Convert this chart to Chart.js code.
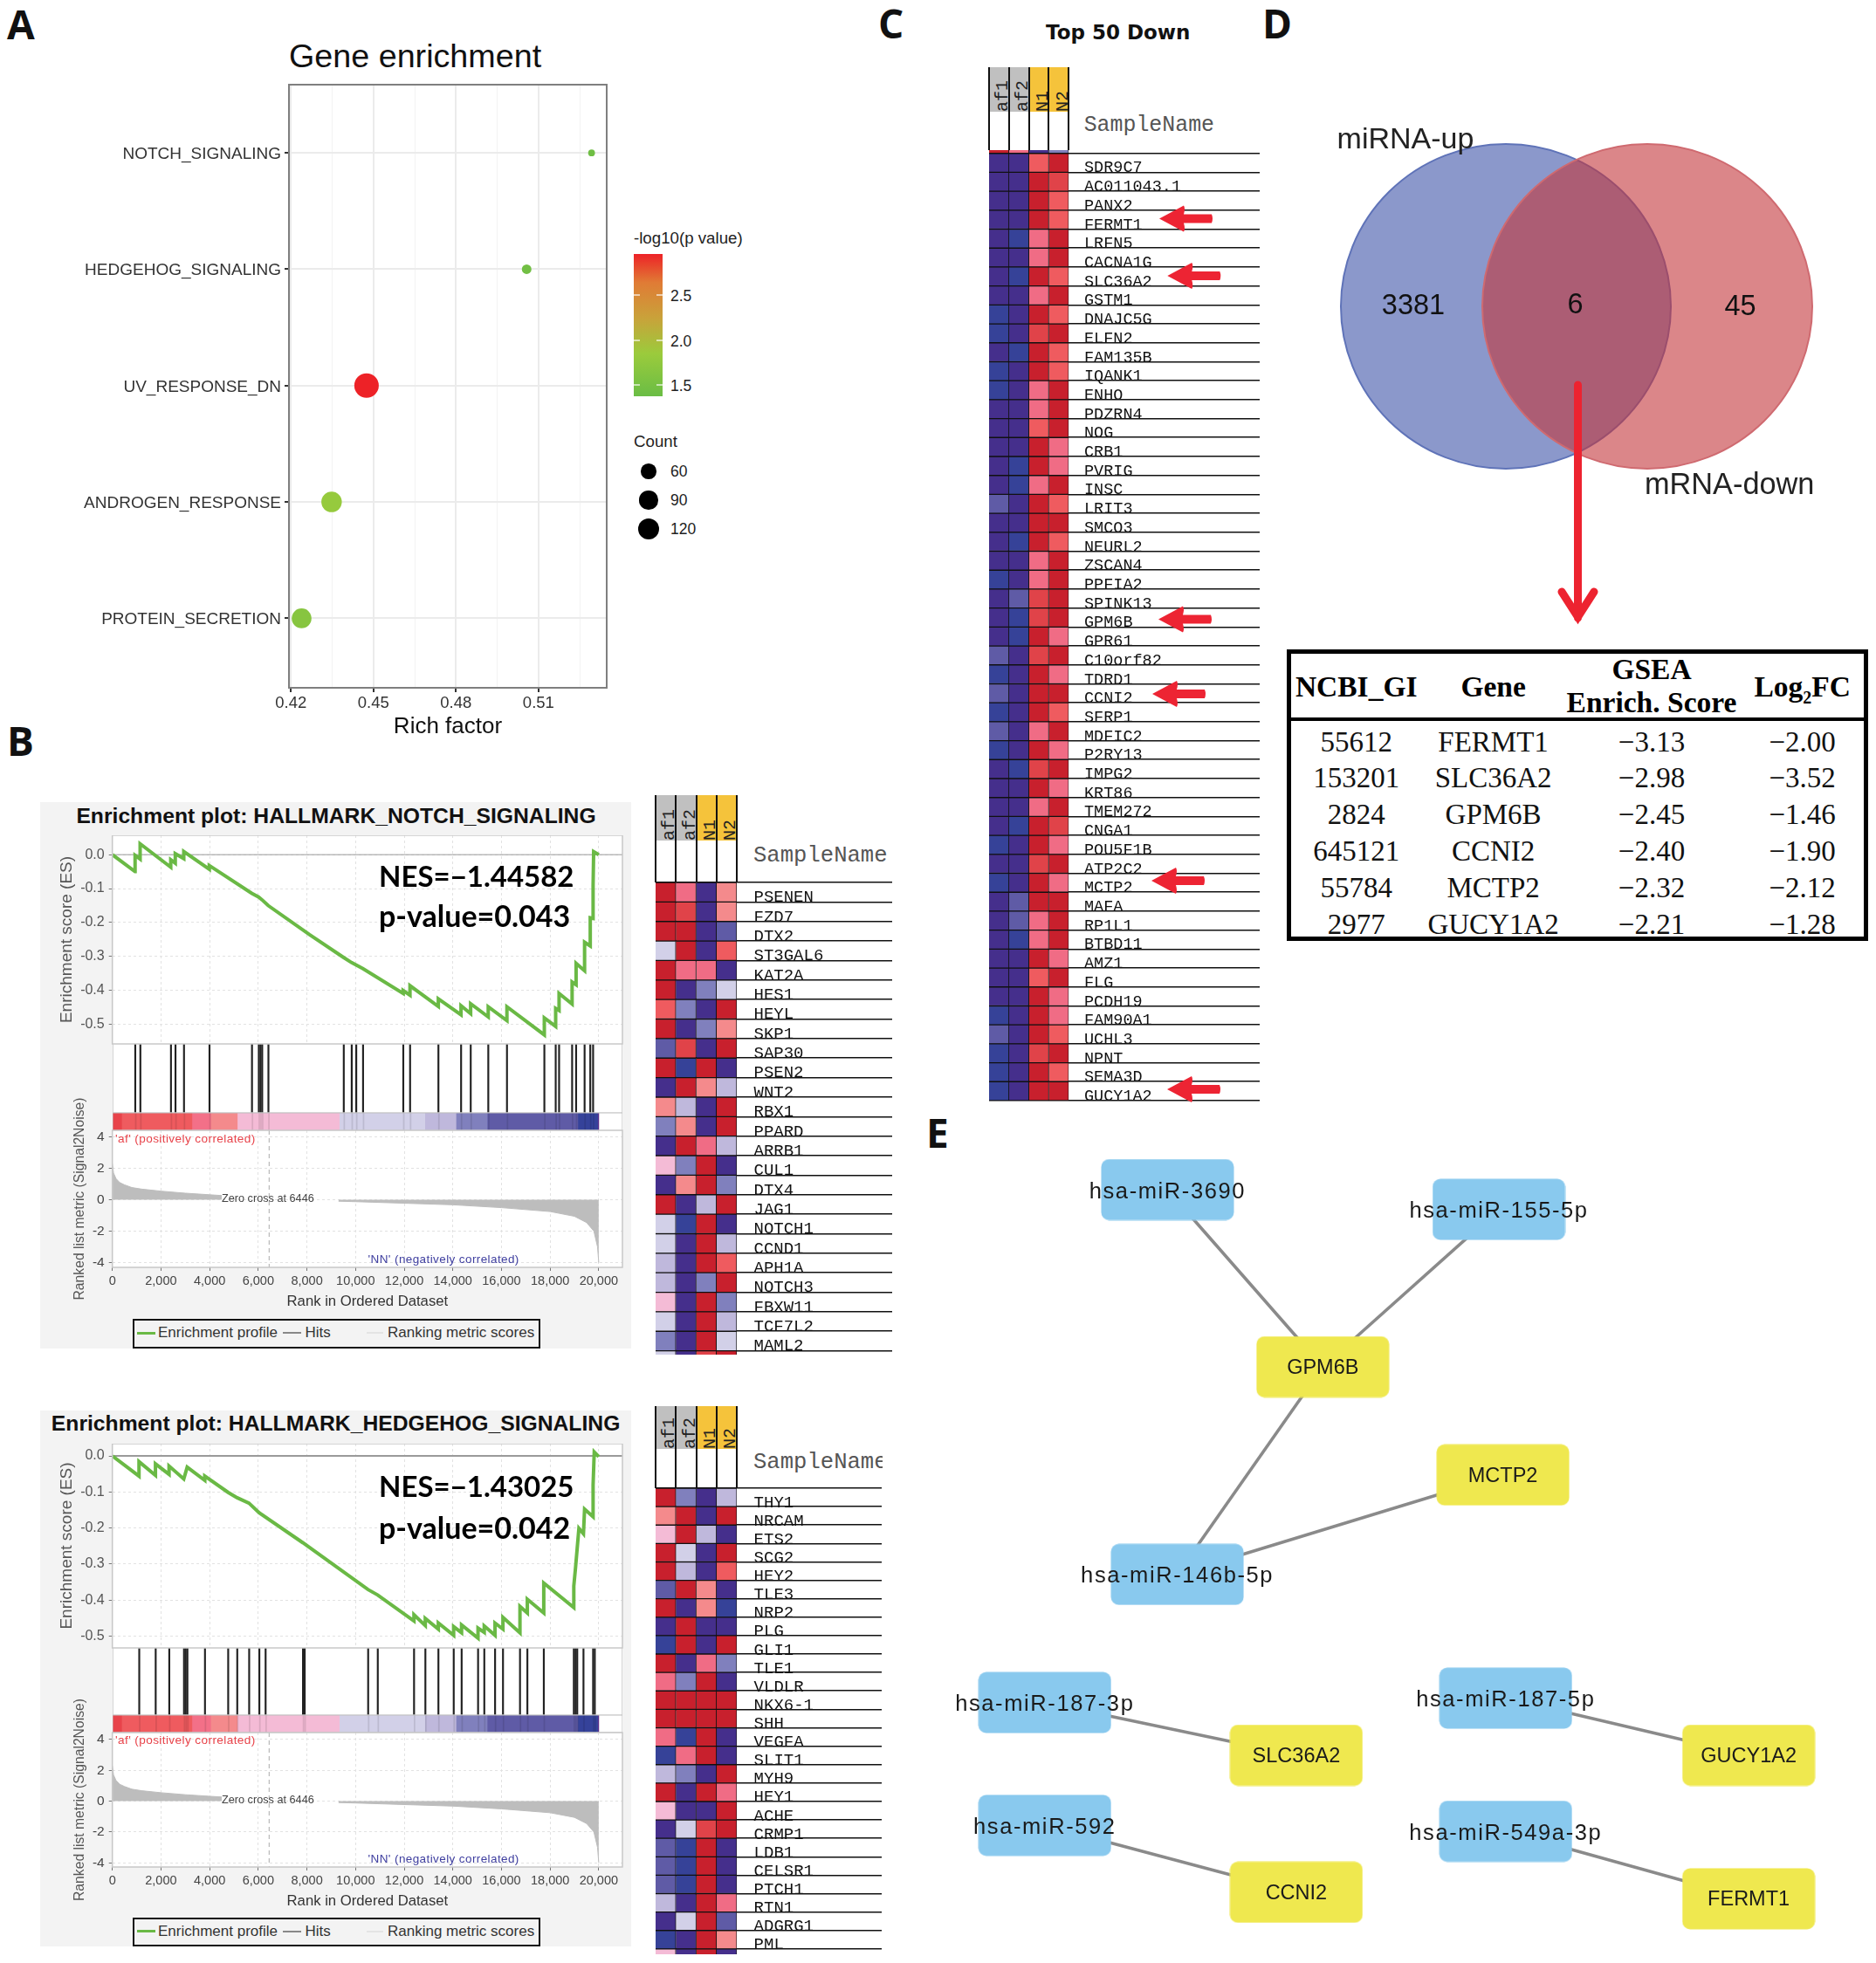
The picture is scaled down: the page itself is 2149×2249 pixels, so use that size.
<!DOCTYPE html>
<html><head><meta charset="utf-8">
<style>
html,body{margin:0;padding:0;background:#fff}
#stage{position:relative;width:2149px;height:2249px;overflow:hidden;background:#fff;font-family:"Liberation Sans",sans-serif}
.t{position:absolute;white-space:nowrap;line-height:1;color:#222}
</style>
<script src="https://cdn.jsdelivr.net/npm/chart.js@4"></script>
</head><body><div id="stage"></div>
<script>
// ---------- Panel A data
const pathways=["PROTEIN_SECRETION","ANDROGEN_RESPONSE","UV_RESPONSE_DN","HEDGEHOG_SIGNALING","NOTCH_SIGNALING"];
const richFactor=[0.4239,0.4348,0.4475,0.5057,0.5293];
const geneCount=[102,110,157,24,12];
const logP=[1.6,1.75,2.95,1.38,1.35];
const richTicks=[0.42,0.435,0.45,0.465,0.48,0.495,0.51,0.525];
const countLegend=[60,90,120];
const pLegend=[2.5,2.0,1.5];
// ---------- Panel B data
const rankAxis=[0,2000,4000,6000,8000,10000,12000,14000,16000,18000,20000];
const esAxis=[0,-0.1,-0.2,-0.3,-0.4,-0.5];
const metricAxis=[4,2,0,-2,-4];
const notchRank=[0,932,935,1142,1142,2401,2401,2587,2587,2937,2937,3986,3986,5734,6014,6154,6410,8112,9510,9837,10303,11958,11958,12238,12238,13403,13403,14336,14336,14732,14732,15455,15455,16224,16224,17762,17762,18228,18228,18368,18368,18904,18904,19068,19068,19417,19417,19650,19650,19767,19767,19790,20000];
const notchES=[0,-0.05,-0.002,-0.013,0.032,-0.037,-0.015,-0.025,0.003,-0.012,0.009,-0.043,-0.032,-0.114,-0.125,-0.133,-0.15,-0.236,-0.303,-0.318,-0.336,-0.409,-0.4,-0.414,-0.386,-0.447,-0.425,-0.472,-0.445,-0.468,-0.439,-0.478,-0.448,-0.489,-0.448,-0.531,-0.481,-0.506,-0.453,-0.459,-0.409,-0.44,-0.375,-0.383,-0.32,-0.342,-0.258,-0.269,-0.186,-0.188,-0.091,0.009,0];
const notchHits=[932,1142,2401,2587,2937,3986,5734,6014,6084,6154,6410,9510,9837,10023,10303,11958,12238,13403,14336,14732,15455,16224,17762,18228,18368,18904,19068,19417,19650,19767];
const hedgeRank=[0,1096,1096,1772,1772,2331,2331,2937,3077,3800,3800,4755,5128,5618,6037,7832,10513,10909,12401,12401,12867,12867,13403,13403,14033,14033,14359,14359,15035,15035,15291,15291,15734,15734,16060,16060,16760,16760,17063,17063,17739,17739,18974,18974,19044,19114,19184,19371,19417,19767,19767,19814,20000];
const hedgeES=[0,-0.056,-0.016,-0.054,-0.022,-0.051,-0.028,-0.064,-0.031,-0.068,-0.056,-0.101,-0.116,-0.131,-0.158,-0.241,-0.371,-0.386,-0.458,-0.441,-0.471,-0.451,-0.481,-0.464,-0.498,-0.474,-0.491,-0.469,-0.506,-0.478,-0.49,-0.472,-0.498,-0.464,-0.481,-0.448,-0.491,-0.418,-0.436,-0.398,-0.436,-0.353,-0.421,-0.361,-0.311,-0.256,-0.201,-0.216,-0.148,-0.169,-0.081,0.011,-0.002];
const hedgeHits=[1096,1772,2331,2937,3007,3077,3800,4755,5128,5618,6037,6294,7832,7902,10513,10909,12401,12867,13403,14033,14359,15035,15291,15734,16060,16760,17063,17739,18974,19044,19114,19371,19767,19837];
const metricPosRank=[0,50,150,300,500,800,1200,2000,3000,4000,4500];
const metricPosVal=[2.3,1.7,1.35,1.1,0.95,0.78,0.68,0.55,0.42,0.32,0.27];
const metricNegRank=[9300,10000,12000,14000,16000,18000,19000,19500,19800,19950,20000];
const metricNegVal=[-0.09,-0.12,-0.22,-0.32,-0.5,-0.75,-1.05,-1.45,-2,-3,-4];
const stripEdges=[0,373,3263,4033,5128,9324,12844,14126,15408,19138,19954,20000];
const stripColors=["#e8434a","#ef5b5f","#f37088","#f48a8c","#f4bbd6","#d2d0e8","#bfb8dc","#8080bd","#5f5ba6","#35429a","#5a2d8a"];
// heat levels: index into heatPalette; columns af1, af2, N1, N2
const heatPalette=[null,"#452f8c","#364298","#5f5ba6","#8080bd","#bfb8dc","#d2d0e8","#f4bbd6","#f48a8c","#f06c85","#ef5b5f","#e04349","#c8202d"];
const samples=["af1","af2","N1","N2"];
const notchGenes=["PSENEN","FZD7","DTX2","ST3GAL6","KAT2A","HES1","HEYL","SKP1","SAP30","PSEN2","WNT2","RBX1","PPARD","ARRB1","CUL1","DTX4","JAG1","NOTCH1","CCND1","APH1A","NOTCH3","FBXW11","TCF7L2","MAML2",""];
const notchHeat=[[12,9,1,8],[12,11,1,8],[12,12,1,3],[6,12,1,10],[12,9,9,1],[12,1,4,6],[10,4,1,12],[12,1,4,8],[3,11,1,12],[12,2,12,1],[1,12,8,5],[8,5,1,12],[4,8,1,12],[1,12,9,5],[7,4,12,1],[1,8,12,4],[12,1,5,12],[6,2,12,1],[6,1,12,5],[5,1,12,10],[5,1,4,12],[7,1,12,4],[6,1,12,5],[4,1,12,6],[6,1,11,12]];
const hedgeGenes=["THY1","NRCAM","ETS2","SCG2","HEY2","TLE3","NRP2","PLG","GLI1","TLE1","VLDLR","NKX6-1","SHH","VEGFA","SLIT1","MYH9","HEY1","ACHE","CRMP1","LDB1","CELSR1","PTCH1","RTN1","ADGRG1","PML",""];
const hedgeHeat=[[12,4,1,5],[8,12,1,12],[7,12,5,1],[12,6,1,12],[12,5,1,10],[3,12,8,1],[12,1,8,2],[1,12,1,1],[2,12,1,12],[12,1,9,4],[9,4,12,1],[12,12,12,12],[12,12,12,12],[9,2,12,1],[2,9,12,1],[5,4,1,12],[12,1,12,9],[7,1,1,12],[1,6,11,12],[3,2,12,1],[3,2,12,1],[3,2,12,1],[5,1,12,9],[1,6,12,3],[2,1,12,8],[7,1,12,1]];
// ---------- Panel C data
const downGenes=["","SDR9C7","AC011043.1","PANX2","FERMT1","LRFN5","CACNA1G","SLC36A2","GSTM1","DNAJC5G","ELFN2","FAM135B","IQANK1","ENHO","PDZRN4","NOG","CRB1","PVRIG","INSC","LRIT3","SMCO3","NEURL2","ZSCAN4","PPFIA2","SPINK13","GPM6B","GPR61","C10orf82","TDRD1","CCNI2","SFRP1","MDFIC2","P2RY13","IMPG2","KRT86","TMEM272","CNGA1","POU5F1B","ATP2C2","MCTP2","MAFA","RP1L1","BTBD11","AMZ1","FLG","PCDH19","FAM90A1","UCHL3","NPNT","SEMA3D","GUCY1A2"];
const downHeat=[[12,9,1,4],[1,1,10,12],[1,1,12,11],[1,1,12,10],[1,1,12,10],[1,2,9,12],[1,1,9,12],[1,2,12,10],[1,1,9,12],[2,1,12,10],[2,1,11,12],[1,2,12,10],[2,1,12,10],[2,1,9,12],[1,1,9,12],[1,1,10,12],[1,1,12,9],[1,2,12,9],[1,2,9,12],[3,1,12,10],[1,1,12,12],[1,2,12,10],[1,1,9,12],[2,1,9,12],[1,3,11,12],[1,2,11,12],[1,2,12,9],[3,1,11,12],[2,1,12,9],[3,1,12,12],[2,1,12,10],[3,1,9,12],[2,1,12,9],[1,2,11,12],[1,1,12,9],[1,1,9,12],[1,2,12,11],[2,1,12,9],[1,1,11,12],[2,1,12,9],[1,3,12,12],[1,3,9,12],[1,2,9,12],[1,1,12,9],[1,1,10,12],[1,1,12,9],[2,1,12,9],[3,1,12,10],[2,1,11,12],[2,1,12,10],[2,1,12,12]];
// ---------- Panel D data
const vennSets=["miRNA-up","mRNA-down"];
const vennX=[225,387];
const vennY=[231,231];
const vennCounts=["3381","6","45"];
const tableHead=["NCBI_GI","Gene","Log\u2082FC"];
const tableIds=["55612","153201","2824","645121","55784","2977"];
const tableGenes=["FERMT1","SLC36A2","GPM6B","CCNI2","MCTP2","GUCY1A2"];
const tableES=["\u22123.13","\u22122.98","\u22122.45","\u22122.40","\u22122.32","\u22122.21"];
const tableFC=["\u22122.00","\u22123.52","\u22121.46","\u22121.90","\u22122.12","\u22121.28"];
// ---------- Panel E data
const miNames=["hsa-miR-3690","hsa-miR-155-5p","hsa-miR-146b-5p","hsa-miR-187-3p","hsa-miR-187-5p","hsa-miR-592","hsa-miR-549a-3p"];
const miX=[287.4,667,298.6,146.8,674.8,146.8,674.8];
const miY=[93,115.6,533.8,680.6,675.6,821.3,828.1];
const mrNames=["GPM6B","MCTP2","SLC36A2","GUCY1A2","CCNI2","FERMT1"];
const mrX=[465.3,671.6,434.9,953.1,434.9,953.1];
const mrY=[296,419.8,741,741,897.9,905.4];
const edgePairs=[[0,0],[1,0],[2,0],[2,1],[3,2],[4,3],[5,4],[6,5]];

// ---------- helpers
Chart.defaults.animation=false;
Chart.defaults.responsive=false;
Chart.defaults.devicePixelRatio=1;
Chart.defaults.layout.autoPadding=false;
Chart.defaults.font.family='"Liberation Sans",sans-serif';
Chart.defaults.plugins.legend.display=false;
Chart.defaults.plugins.tooltip.enabled=false;
const stage=document.getElementById('stage');
function mk(x,y,w,h,parent){const c=document.createElement('canvas');c.width=Math.round(w);c.height=Math.round(h);
 c.style.cssText=`position:absolute;left:${x}px;top:${y}px;width:${Math.round(w)}px;height:${Math.round(h)}px`;(parent||stage).appendChild(c);return c;}
function box(x,y,w,h,css,parent){const d=document.createElement('div');d.style.cssText=`position:absolute;left:${x}px;top:${y}px;width:${w}px;height:${h}px;${css||''}`;(parent||stage).appendChild(d);return d;}
function text(x,y,s,o={}){const d=document.createElement('div');d.className='t';d.innerHTML=s;
 const tx=o.anchor==='center'?'-50%':o.anchor==='right'?'-100%':'0';
 d.style.cssText=`left:${x}px;top:${y}px;transform:translate(${tx},-50%);font:${o.weight||400} ${o.size||16}px ${o.family||'"Liberation Sans",sans-serif'};color:${o.color||'#222'};${o.css||''}`;
 stage.appendChild(d);return d;}
const frame=(stroke,lw=1,fill='#fff')=>({id:'frame',
 beforeDraw(ch){const{ctx,chartArea:a}=ch;ctx.save();ctx.fillStyle=fill;ctx.fillRect(a.left,a.top,a.width,a.height);ctx.restore();},
 afterDraw(ch){const{ctx,chartArea:a}=ch;ctx.save();ctx.strokeStyle=stroke;ctx.lineWidth=lw;ctx.strokeRect(a.left,a.top,a.width,a.height);ctx.restore();}});
const zeroPad=s=>{s.paddingTop=s.paddingBottom=s.paddingLeft=s.paddingRight=0};
const fixW=w=>s=>{s.width=w;zeroPad(s)};
const fixH=h=>s=>{s.height=h;zeroPad(s)};
function hex(c){return [1,3,5].map(i=>parseInt(c.substr(i,2),16));}
const pStops=[[1.3,"#6abd45"],[1.8,"#9bcb3c"],[2.2,"#c9a23a"],[2.6,"#e07b35"],[2.95,"#ed2227"]];
function pColor(v){for(let i=1;i<pStops.length;i++){if(v<=pStops[i][0]){const a=pStops[i-1],b=pStops[i],t=Math.max(0,(v-a[0])/(b[0]-a[0]));
 const A=hex(a[1]),B=hex(b[1]);return `rgb(${A.map((q,k)=>Math.round(q+(B[k]-q)*t)).join(',')})`;}}return pStops[pStops.length-1][1];}
const radiusOf=c=>Math.sqrt(1.25*c);

// ---------- Panel letters
[["A",8,27],["B",8,848],["C",1006,26],["D",1446,26],["E",1061,1297]].forEach(l=>text(l[1],l[2],l[0],{size:46,weight:700,family:'"Open Sans",sans-serif',color:'#111'}));

// ---------- Panel A
text(331,64,"Gene enrichment",{size:37.7,color:'#111'});
(function(){
 const cx=0,cy=60,cw=720,ch=790,L=331,T=97,R=695,B=788;
 new Chart(mk(cx,cy,cw,ch),{type:'scatter',
  data:{datasets:[{data:richFactor.map((x,i)=>({x,y:i})),pointRadius:geneCount.map(radiusOf),backgroundColor:logP.map(pColor),borderWidth:0,clip:false}]},
  plugins:[frame('#7f7f7f',2)],
  options:{layout:{padding:{top:T-cy,right:cx+cw-R,left:0,bottom:0}},
   scales:{
    x:{type:'linear',min:0.4193,max:0.5348,afterFit:fixH(cy+ch-B),
     afterBuildTicks:s=>{s.ticks=richTicks.map(v=>({value:v}))},
     grid:{color:c=>Math.round(c.tick.value*1000)%30===0?'#ebebeb':'#f3f3f3',lineWidth:c=>Math.round(c.tick.value*1000)%30===0?2:1,tickColor:c=>Math.round(c.tick.value*1000)%30===0?'#333':'rgba(0,0,0,0)',tickLength:5},
     border:{display:false},
     ticks:{autoSkip:false,maxRotation:0,color:'#333',font:{size:18.5},padding:2,callback:v=>Math.round(v*1000)%30===0?v.toFixed(2):''},
     title:{display:true,text:'Rich factor',font:{size:26},color:'#111',padding:{top:0,bottom:2}}},
    y:{type:'linear',min:-0.597,max:4.586,afterFit:fixW(L-cx),
     afterBuildTicks:s=>{s.ticks=pathways.map((_,i)=>({value:i}))},
     grid:{color:'#ebebeb',lineWidth:2,tickColor:'#333',tickLength:5},border:{display:false},
     ticks:{color:'#333',font:{size:19},padding:4,labelOffset:1.5,callback:v=>pathways[v]}}
   }}});
 text(726,273,"-log10(p value)",{size:18.7});
 box(726,291,33,163,`background:linear-gradient(to top,#6abd45 0%,#9bcb3c 30%,#c9a23a 55%,#e07b35 80%,#ed2227 100%)`);
 [[338,pLegend[0]],[390,pLegend[1]],[441,pLegend[2]]].forEach(p=>{
  box(726,p[0]-1,7,1.5,'background:rgba(255,255,255,.6)');box(752,p[0]-1,7,1.5,'background:rgba(255,255,255,.6)');
  text(768,p[0]+1,p[1].toFixed(1),{size:17.5});});
 text(726,506,"Count",{size:18.7});
 [540,573,606].forEach((y,i)=>{const r=radiusOf(countLegend[i]);box(743-r,y-r,2*r,2*r,'background:#000;border-radius:50%');text(768,y,String(countLegend[i]),{size:17.5});});
})();

// ---------- Panel B GSEA
const X_MAX=20973;
function gsea(g){
 const L=128.7,R=713,W=R-L;
 box(46,g.boxTop,677,g.boxBottom-g.boxTop,'background:#f3f3f3');
 text(g.titleX,g.titleY,g.title,{size:24.7,weight:700,anchor:'center',color:'#111'});
 // ES panel
 const esLeft=65;
 new Chart(mk(esLeft,g.top,R+1-esLeft,g.esBottom-g.top+1),{type:'scatter',
  data:{datasets:[
   {data:g.rank.map((x,i)=>({x,y:g.es[i]})),showLine:true,borderColor:'#6ab945',borderWidth:4,pointRadius:0,tension:0,borderJoinStyle:'miter'},
   {data:[{x:0,y:0},{x:X_MAX,y:0}],showLine:true,borderColor:'#9a9a9a',borderWidth:g.zeroW,pointRadius:0}
  ]},
  plugins:[frame('#c8c8c8',1.5)],
  options:{layout:{padding:{top:0,right:1,left:0,bottom:1}},
   scales:{
    x:{type:'linear',min:0,max:X_MAX,afterFit:fixH(0),afterBuildTicks:s=>{s.ticks=rankAxis.map(v=>({value:v}))},
     grid:{color:'#e2e2e2',drawTicks:false},border:{display:false,dash:[3,3]},ticks:{display:false}},
    y:{type:'linear',min:g.esMin,max:g.esMax,afterFit:fixW(L-esLeft),afterBuildTicks:s=>{s.ticks=esAxis.map(v=>({value:v}))},
     grid:{color:'#e2e2e2',tickLength:4,tickColor:'#777'},border:{display:false,dash:[3,3]},
     ticks:{color:'#555',font:{size:16},padding:5,callback:v=>v.toFixed(1)},
     title:{display:true,text:'Enrichment score (ES)',color:'#555',font:{size:19},padding:0}}
   }}});
 // Hits
 new Chart(mk(L,g.esBottom,W,g.hitsBottom-g.esBottom),{type:'bar',
  data:{datasets:[{data:g.hits.map(x=>({x,y:1})),backgroundColor:'#222',barThickness:1.5}]},
  plugins:[frame('#c8c8c8',1.5)],
  options:{scales:{x:{type:'linear',offset:false,min:0,max:X_MAX,display:false},y:{min:0,max:1,display:false}}}});
 // Colour strip
 const stripSets=g.hits.map(h=>({data:[[h,h+40]],backgroundColor:'rgba(0,0,0,.1)',grouped:false,barPercentage:1,categoryPercentage:1}))
  .concat(stripColors.map((c,i)=>({data:[[stripEdges[i],stripEdges[i+1]]],backgroundColor:c,grouped:false,barPercentage:1,categoryPercentage:1})));
 new Chart(mk(L,g.hitsBottom,W,g.stripBottom-g.hitsBottom),{type:'bar',
  data:{labels:['strip'],datasets:stripSets},plugins:[frame('#bdbdbd',1)],
  options:{indexAxis:'y',scales:{x:{type:'linear',min:0,max:X_MAX,display:false},y:{display:false}}}});
 // Ranked metric
 const rkLeft=82,rkTop=g.stripBottom-80,rkBottom=g.rankBottom+49;
 new Chart(mk(rkLeft,rkTop,R+1-rkLeft,rkBottom-rkTop),{type:'scatter',
  data:{datasets:[
   {data:[{x:6446,y:g.mMax},{x:6446,y:g.mMin}],showLine:true,borderColor:'#aaa',borderWidth:1,borderDash:[5,4],pointRadius:0},
   {data:metricPosRank.map((x,i)=>({x,y:metricPosVal[i]})),showLine:true,fill:'origin',backgroundColor:'#bdbdbd',borderColor:'#bdbdbd',borderWidth:1,pointRadius:0},
   {data:metricNegRank.map((x,i)=>({x,y:metricNegVal[i]})),showLine:true,fill:'origin',backgroundColor:'#bdbdbd',borderColor:'#bdbdbd',borderWidth:1,pointRadius:0}
  ]},
  plugins:[frame('#c8c8c8',1.5)],
  options:{layout:{padding:{top:g.stripBottom-rkTop,right:1,left:0,bottom:0}},
   scales:{
    x:{type:'linear',min:0,max:X_MAX,afterFit:fixH(rkBottom-g.rankBottom),afterBuildTicks:s=>{s.ticks=rankAxis.map(v=>({value:v}))},
     grid:{color:'#e2e2e2',tickLength:4,tickColor:'#777'},border:{display:false,dash:[3,3]},
     ticks:{autoSkip:false,maxRotation:0,color:'#444',font:{size:14.5},padding:3,callback:v=>v.toLocaleString('en-US')},
     title:{display:true,text:'Rank in Ordered Dataset',color:'#333',font:{size:16.7},padding:0}},
    y:{type:'linear',min:g.mMin,max:g.mMax,afterFit:fixW(L-rkLeft),afterBuildTicks:s=>{s.ticks=metricAxis.map(v=>({value:v}))},
     grid:{color:'#e2e2e2',tickLength:4,tickColor:'#777'},border:{display:false,dash:[3,3]},
     ticks:{color:'#444',font:{size:15.5},padding:5},
     title:{display:true,text:'Ranked list metric (Signal2Noise)',color:'#555',font:{size:15.7},padding:0}}
   }}});
 const lblTop=g.stripBottom, zero=g.zeroY;
 text(132,lblTop+8.5,"'af' (positively correlated)",{size:13.6,color:'#e8434a',css:'letter-spacing:.4px'});
 text(421.6,g.negY,"'NN' (negatively correlated)",{size:13.5,color:'#4040a0',css:'letter-spacing:.4px'});
 text(254,zero,"Zero cross at 6446",{size:12.7,color:'#444'});
 text(434,g.nesY,g.nes,{size:33,weight:700,family:'Lato,sans-serif',color:'#000'});
 text(434,g.pvY,g.pv,{size:34,weight:700,family:'Lato,sans-serif',color:'#000'});
 // legend
 box(152,g.legTop,463,g.legBottom-g.legTop-2,'border:2px solid #111');
 const ly=(g.legTop+g.legBottom)/2;
 box(157,ly-1.5,21,3,'background:#6ab945');text(181,ly,"Enrichment profile",{size:17,color:'#333'});
 box(324,ly-1,21,2,'background:#888');text(349.5,ly,"Hits",{size:17,color:'#333'});
 box(420,ly-1,19,2,'background:#e4e4e4');text(444,ly,"Ranking metric scores",{size:17,color:'#333'});
}
gsea({boxTop:918.6,boxBottom:1545,titleX:385,titleY:934.6,title:"Enrichment plot: HALLMARK_NOTCH_SIGNALING",
 top:957,esBottom:1196,hitsBottom:1274.5,stripBottom:1295,rankBottom:1452.4,esMax:0.057,esMin:-0.5575,mMax:4.42,mMin:-4.3,
 rank:notchRank,es:notchES,hits:notchHits,nes:"NES=\u22121.44582",pv:"p-value=0.043",nesY:1002.6,pvY:1048,zeroY:1372.7,negY:1442,legTop:1511,legBottom:1543,zeroW:1});
gsea({boxTop:1615.7,boxBottom:2230,titleX:384.6,titleY:1631,title:"Enrichment plot: HALLMARK_HEDGEHOG_SIGNALING",
 top:1653.7,esBottom:1888,hitsBottom:1965,stripBottom:1984.7,rankBottom:2139,esMax:0.034,esMin:-0.533,mMax:4.45,mMin:-4.27,
 rank:hedgeRank,es:hedgeES,hits:hedgeHits,nes:"NES=\u22121.43025",pv:"p-value=0.042",nesY:1702,pvY:1749,zeroY:2061.5,negY:2129,legTop:2197,legBottom:2228,zeroW:2});

// ---------- Heatmaps
function heat(h){
 const x0=h.cols[0],x1=h.cols[4],cw=x1-x0,lineEnd=h.lineEnd,Lw=lineEnd-x1;
 // header
 const colors=['#c0c0c0','#c0c0c0','#f5c33b','#f5c33b'];
 samples.forEach((s,i)=>{
  const cl=h.cols[i],w=h.cols[i+1]-cl;
  const b=box(cl,h.headTop,w,h.bandBottom-h.headTop,`background:${colors[i]};overflow:hidden`);
  const d=document.createElement('div');d.textContent=s;
  d.style.cssText=`position:absolute;left:${w/2-7}px;bottom:0;height:40px;width:24px;writing-mode:vertical-rl;transform:rotate(180deg);font:20px/24px "Liberation Mono",monospace;color:#222;text-align:left;overflow:hidden`;
  b.appendChild(d);
 });
 h.cols.forEach(c=>box(c-1,h.headTop,2,h.whiteBottom-h.headTop,'background:#111'));
 text(h.labelX,h.nameY,"SampleName",{size:h.nameSize,family:'"Liberation Mono",monospace',color:'#555',css:h.nameClip?`width:${h.nameClip}px;overflow:hidden;`:''});
 // body
 const wrapTop=h.clipTop,wrapBottom=h.clipBottom;
 const wrap=box(x0-1,wrapTop,lineEnd-x0+1,wrapBottom-wrapTop,'overflow:hidden');
 const totalH=h.rowH*h.genes.length;
 const c=mk(1,h.chartTop-wrapTop-1,cw+Lw,totalH+2,wrap);
 new Chart(c,{type:'bar',
  data:{labels:h.genes,datasets:samples.map((s,j)=>({label:s,data:h.genes.map(()=>1),backgroundColor:h.matrix.map(r=>heatPalette[r[j]]),borderColor:'#111',borderWidth:1,barPercentage:1,categoryPercentage:1,stack:'s'}))},
  options:{indexAxis:'y',layout:{padding:{top:1,bottom:1}},
   scales:{
    x:{type:'linear',min:0,max:4,stacked:true,display:false},
    y:{type:'category',stacked:true,position:'right',afterFit:fixW(Lw),
     grid:{offset:true,tickLength:Lw,color:'#111',tickColor:'#111',lineWidth:1.6,tickWidth:1.6},border:{display:false},
     ticks:{autoSkip:false,padding:-(Lw-h.pad),labelOffset:h.lo,color:'#111',font:{family:'"Liberation Mono",monospace',size:h.size}}}
   }}});
}
const heatCols=[750.8,774,797.5,821,843.6];
heat({cols:heatCols,headTop:910.8,bandBottom:963,whiteBottom:1011,lineEnd:1021.6,genes:notchGenes,matrix:notchHeat,rowH:22.36,chartTop:1010.8,clipTop:1009,clipBottom:1551.5,labelX:863,nameY:980,nameSize:25.6,pad:19.5,size:19,lo:6});
heat({cols:heatCols,headTop:1611,bandBottom:1660,whiteBottom:1705,lineEnd:1010.5,genes:hedgeGenes,matrix:hedgeHeat,rowH:21.1,chartTop:1704.5,clipTop:1703,clipBottom:2238.5,labelX:863,nameY:1675,nameSize:25.6,nameClip:148,pad:19.5,size:19,lo:6});
heat({cols:[1132.7,1155.7,1178.7,1201,1224],headTop:77,bandBottom:127.5,whiteBottom:172,lineEnd:1442.7,genes:downGenes,matrix:downHeat,rowH:21.7,chartTop:153.9,clipTop:171.8,clipBottom:1263,labelX:1241.7,nameY:142.9,nameSize:24.9,pad:17.7,size:18.5,lo:6});
text(1198,37,"Top 50 Down",{size:23,weight:700,family:'"DejaVu Sans",sans-serif',color:'#111'});

// ---------- Panel D Venn
function vennImg(fill,stroke){const c=document.createElement('canvas');c.width=382;c.height=376;const g=c.getContext('2d');g.beginPath();g.ellipse(191,188,189,186,0,0,Math.PI*2);g.fillStyle=fill;g.fill();g.strokeStyle=stroke;g.lineWidth=2;g.stroke();return c;}
new Chart(mk(1500,120,620,460),{type:'scatter',
 data:{datasets:[
  {data:[{x:vennX[1],y:vennY[1]}],pointStyle:vennImg('rgba(195,53,58,.6)','#cf6a70'),pointRadius:10,clip:false},
  {data:[{x:vennX[0],y:vennY[0]}],pointStyle:vennImg('rgba(62,83,168,.6)','#5f73b8'),pointRadius:10,clip:false}
 ]},
 options:{scales:{x:{type:'linear',min:0,max:620,display:false},y:{type:'linear',min:0,max:460,reverse:true,display:false}}}});
text(1531.6,157.7,vennSets[0],{size:34,color:'#222'});
text(1884,553.6,vennSets[1],{size:34.3,color:'#222'});
[[1619,349],[1804.5,348],[1993.5,350]].forEach((p,i)=>text(p[0],p[1],vennCounts[i],{size:32.5,anchor:'center',color:'#111'}));
// table
box(1474,743.6,666,334,'border:5px solid #000;box-sizing:border-box');
box(1474,821.5,666,4,'background:#000');
const serif='"Liberation Serif",serif';
const tCols=[1553.7,1710.6,1892,2064.7];
text(tCols[0],787,tableHead[0],{size:33.5,weight:700,family:serif,anchor:'center',color:'#000'});
text(tCols[1],787,tableHead[1],{size:33.5,weight:700,family:serif,anchor:'center',color:'#000'});
text(tCols[2],767,"GSEA",{size:33.5,weight:700,family:serif,anchor:'center',color:'#000'});
text(tCols[2],804.5,"Enrich. Score",{size:33.5,weight:700,family:serif,anchor:'center',color:'#000'});
text(tCols[3],787,"Log<sub style=\"font-size:20px;line-height:0\">2</sub>FC",{size:33.5,weight:700,family:serif,anchor:'center',color:'#000'});
[850,891.3,933.3,975,1017,1059].forEach((y,i)=>{
 [tableIds,tableGenes,tableES,tableFC].forEach((col,k)=>text(tCols[k],y,col[i],{size:33,family:serif,anchor:'center',color:'#111'}));});

// arrows
const svgNS='http://www.w3.org/2000/svg';
const svg=document.createElementNS(svgNS,'svg');svg.setAttribute('width',2149);svg.setAttribute('height',2249);svg.style.cssText='position:absolute;left:0;top:0;pointer-events:none';stage.appendChild(svg);
function leftArrow(x,y){const p=document.createElementNS(svgNS,'path');const e=x+62;
 p.setAttribute('d',`M${x} ${y} L${x+28} ${y-15} Q${x+30} ${y-12} ${x+28} ${y-5} L${e-2} ${y-5} Q${e} ${y} ${e-2} ${y+5} L${x+28} ${y+5} Q${x+30} ${y+12} ${x+28} ${y+15} Z`);
 p.setAttribute('fill','#ed2433');svg.appendChild(p);}
[[1328,250.5],[1337.3,316],[1327,709.6],[1320,795],[1319,1009],[1337,1248]].forEach(a=>leftArrow(a[0],a[1]));
const big=document.createElementNS(svgNS,'path');big.setAttribute('d','M1807.5 441 L1807.5 708 M1789 678 L1807.5 707 L1826 678');big.setAttribute('stroke','#ed2330');big.setAttribute('stroke-width','9');big.setAttribute('fill','none');big.setAttribute('stroke-linecap','round');svg.appendChild(big);

// ---------- Panel E network
function nodeImg(color){const c=document.createElement('canvas');c.width=153;c.height=71;const g=c.getContext('2d');g.fillStyle=color;g.beginPath();g.roundRect(0.5,0.5,152,70,9);g.fill();return c;}
const nodeLabels={id:'nodeLabels',afterDatasetsDraw(ch){
 const{ctx,scales:{x,y}}=ch;ctx.save();ctx.textAlign='center';ctx.textBaseline='middle';ctx.fillStyle='#1a1a1a';
 ctx.font='25.5px "Liberation Sans",sans-serif';ctx.letterSpacing='1.6px';
 miNames.forEach((n,i)=>ctx.fillText(n,x.getPixelForValue(miX[i]),y.getPixelForValue(miY[i])+2.5));
 ctx.font='23.5px "Liberation Sans",sans-serif';ctx.letterSpacing='0px';
 mrNames.forEach((n,i)=>ctx.fillText(n,x.getPixelForValue(mrX[i]),y.getPixelForValue(mrY[i])+1.5));
 ctx.restore();}};
new Chart(mk(1050,1270,1099,979),{type:'scatter',
 data:{datasets:[
  {data:miX.map((x,i)=>({x,y:miY[i]})),pointStyle:nodeImg('#89c9ee'),pointRadius:10},
  {data:mrX.map((x,i)=>({x,y:mrY[i]})),pointStyle:nodeImg('#efe84f'),pointRadius:10}
 ].concat(edgePairs.map(e=>({data:[{x:miX[e[0]],y:miY[e[0]]},{x:mrX[e[1]],y:mrY[e[1]]}],showLine:true,borderColor:'#8a8a8a',borderWidth:3.6,pointRadius:0})))},
 plugins:[nodeLabels],
 options:{scales:{x:{type:'linear',min:0,max:1099,display:false},y:{type:'linear',min:0,max:979,reverse:true,display:false}}}});
</script></body></html>
